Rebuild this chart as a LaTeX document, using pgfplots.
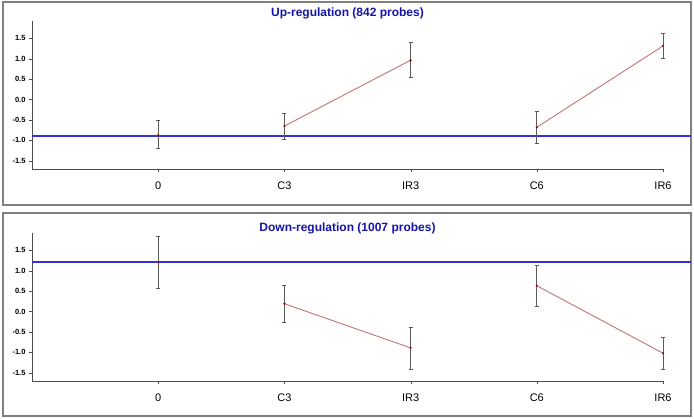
\documentclass[border=0pt]{standalone}
\usepackage{fontspec}
\setmainfont{Liberation Sans}
\usepackage{pgfplots}
\pgfplotsset{compat=1.18}
\usepackage{pgfplotstable}

\definecolor{framegray}{RGB}{128,128,128}
\definecolor{avgblue}{RGB}{50,50,215}
\definecolor{titleblue}{RGB}{20,20,170}
\definecolor{trend}{RGB}{195,115,115}
\definecolor{dotred}{RGB}{140,20,20}

% x: 0=0, 1=C3, 2=IR3, 3=C6, 4=IR6
\pgfplotstableread{
x y ep em
0 -0.87 0.35 0.33
1 -0.65 0.32 0.32
2 0.96 0.43 0.42
3 -0.68 0.38 0.40
4 1.31 0.31 0.31
}\upreg

\pgfplotstableread{
x y ep em
0 1.20 0.64 0.63
1 0.19 0.44 0.45
2 -0.89 0.51 0.52
3 0.63 0.51 0.51
4 -1.02 0.39 0.40
}\downreg

\pgfplotsset{
  panel/.style={
    scale only axis, width=631pt, height=148pt,
    xmin=-1, xmax=4, ymin=-1.7, ymax=1.92,
    axis x line*=bottom, axis y line*=left,
    axis line style={-, black!70, line width=0.8pt},
    xtick={0,1,2,3,4}, xticklabels={0,C3,IR3,C6,IR6},
    ytick={-1.5,-1,-0.5,0,0.5,1,1.5},
    tick align=outside, major tick length=3pt,
    tick style={black!70},
    x tick label style={font=\fontsize{11}{12}\selectfont, yshift=-6pt},
    y tick label style={font=\fontsize{7.5}{8}\selectfont\bfseries,
      /pgf/number format/.cd, fixed, fixed zerofill, precision=1, assume math mode=true},
    clip=false,
    title style={font=\fontsize{12}{13}\selectfont\bfseries, text=titleblue,
      at={(0.5,1)}, anchor=center},
  },
  ebars/.style={only marks, mark=*, mark size=0.9pt, color=dotred,
    error bars/.cd, y dir=both, y explicit,
    error bar style={black!65, line width=0.7pt},
    error mark options={rotate=90, mark size=2pt, black!65, line width=0.7pt}},
  avg/.style={draw=avgblue, color=avgblue, line width=1.9pt, no marks},
}

\begin{document}
\begin{tikzpicture}
\path[fill=white] (0pt,0pt) rectangle (694pt,419pt);
\draw[framegray, line width=1.3pt] (3pt,214pt) rectangle (691pt,417pt);
\draw[framegray, line width=1.3pt] (3pt,3pt) rectangle (691pt,206pt);

\begin{axis}[panel, at={(32pt,250pt)}, anchor=south west,
  title={Up-regulation (842 probes)}, title style={yshift=2pt}]
\addplot[avg] coordinates {(-1,-0.885) (4.22,-0.885)};
\addplot[trend, line width=0.9pt] coordinates {(1,-0.65) (2,0.96)};
\addplot[trend, line width=0.9pt] coordinates {(3,-0.68) (4,1.31)};
\addplot[ebars] table[x=x, y=y, y error plus=ep, y error minus=em] {\upreg};
\end{axis}

\begin{axis}[panel, at={(32pt,38pt)}, anchor=south west,
  title={Down-regulation (1007 probes)}, title style={yshift=-1pt}]
\addplot[avg] coordinates {(-1,1.20) (4.22,1.20)};
\addplot[trend, line width=0.9pt] coordinates {(1,0.19) (2,-0.89)};
\addplot[trend, line width=0.9pt] coordinates {(3,0.63) (4,-1.02)};
\addplot[ebars] table[x=x, y=y, y error plus=ep, y error minus=em] {\downreg};
\end{axis}
\end{tikzpicture}
\end{document}
